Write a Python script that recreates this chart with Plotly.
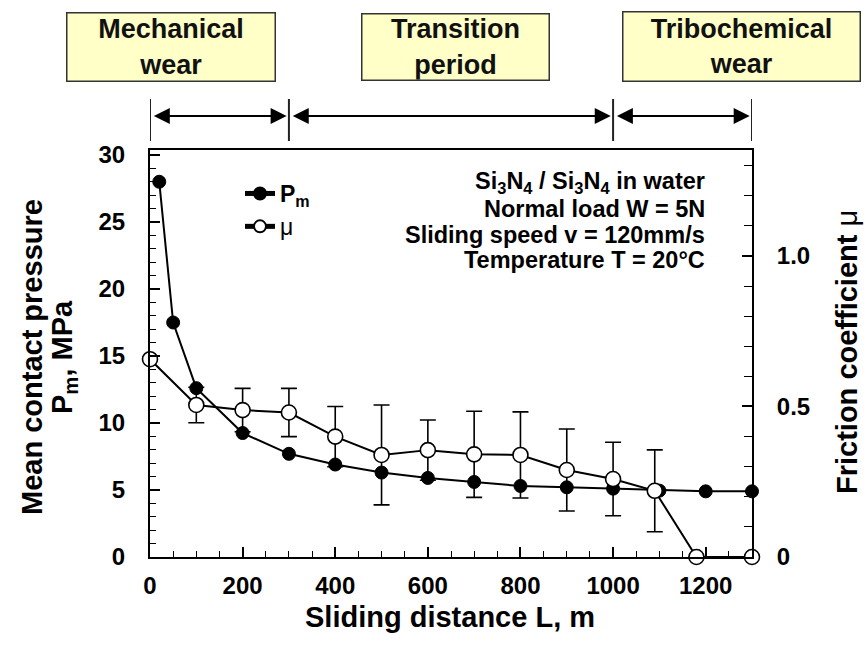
import plotly.graph_objects as go

# ---------------- data ----------------
distance_pm = [20, 50, 100, 200, 300, 400, 500, 600, 700, 800, 900, 1000, 1100, 1200, 1300]
pressure_pm = [28.0, 17.5, 12.6, 9.25, 7.7, 6.9, 6.3, 5.9, 5.6, 5.3, 5.2, 5.1, 4.95, 4.9, 4.9]

distance_mu = [0, 100, 200, 300, 400, 500, 600, 700, 800, 900, 1000, 1090, 1180, 1300]
friction_mu = [0.657, 0.505, 0.488, 0.48, 0.40, 0.339, 0.355, 0.341, 0.339, 0.289, 0.259, 0.22, 0.0, 0.0]
friction_err = [None, 0.059, 0.072, 0.08, 0.10, 0.166, 0.10, 0.143, 0.143, 0.136, 0.122, 0.136, None, None]

phase_bounds = [0, 300, 1000, 1300]
phase_labels = ["Mechanical<br>wear", "Transition<br>period", "Tribochemical<br>wear"]

x_ticks = [0, 200, 400, 600, 800, 1000, 1200]
y_ticks = [0, 5, 10, 15, 20, 25, 30]
mu_ticks = [0, 0.5, 1.0]
mu_ticktext = ["0", "0.5", "1.0"]

conditions = [
    "Si<sub>3</sub>N<sub>4</sub> / Si<sub>3</sub>N<sub>4</sub> in water",
    "Normal load W = 5N",
    "Sliding speed v = 120mm/s",
    "Temperature T = 20°C",
]

FONT = "Liberation Sans, Arial, Helvetica, sans-serif"
W, H = 866, 659
L, R, T, B = 150, 114, 150, 102
PW = W - L - R
PH = H - T - B


def px_to_paper_y(py):
    return (H - B - py) / PH


def px_to_paper_x(px):
    return (px - L) / PW


fig = go.Figure()

fig.add_trace(go.Scatter(
    x=distance_pm, y=pressure_pm, mode="lines+markers",
    name="<b>P<sub>m</sub></b>",
    line=dict(color="black", width=2),
    marker=dict(symbol="circle", size=13, color="black", line=dict(color="black", width=1)),
    yaxis="y", cliponaxis=False,
))

fig.add_trace(go.Scatter(
    x=distance_mu, y=friction_mu, mode="lines+markers",
    name="μ",
    line=dict(color="black", width=2),
    marker=dict(symbol="circle", size=15, color="white", line=dict(color="black", width=1.6)),
    error_y=dict(type="data", array=friction_err, visible=True, color="black",
                 thickness=1.6, width=8),
    yaxis="y2", cliponaxis=False,
))

annotations = []

# phase boxes
box_specs = [(170.5, 210, 70), (455.5, 189, 68), (741.5, 239, 71)]
for label, (cx, bw, bh) in zip(phase_labels, box_specs):
    annotations.append(dict(
        text="<b>" + label + "</b>", x=px_to_paper_x(cx), y=px_to_paper_y(47),
        xref="paper", yref="paper", xanchor="center", yanchor="middle",
        showarrow=False, font=dict(family=FONT, size=27, color="#111"),
        bgcolor="#FFFFC8", bordercolor="#333333", borderwidth=1.5, borderpad=0,
        width=bw - 3, height=bh - 3, align="center",
    ))

# double arrows between phase boundaries
arrow_y = px_to_paper_y(116)
for a, b in zip(phase_bounds[:-1], phase_bounds[1:]):
    annotations.append(dict(
        text="", x=b - 5, y=arrow_y, xref="x", yref="paper",
        ax=a + 5, ay=0, axref="x", ayref="pixel",
        showarrow=True, arrowhead=2, startarrowhead=2, arrowside="end+start",
        arrowsize=1.6, startarrowsize=1.6, arrowwidth=2, arrowcolor="black",
        standoff=0, startstandoff=0,
    ))

shapes = []
for xb in phase_bounds:
    shapes.append(dict(type="line", xref="x", yref="paper", x0=xb, x1=xb,
                       y0=px_to_paper_y(141), y1=px_to_paper_y(99),
                       line=dict(color="#222", width=2)))

# test condition text block
cond_y = [183, 209, 235, 260]
for line, py in zip(conditions, cond_y):
    annotations.append(dict(
        text="<b>" + line + "</b>", x=px_to_paper_x(707), y=px_to_paper_y(py),
        xref="paper", yref="paper", xanchor="right", yanchor="middle",
        showarrow=False, font=dict(family=FONT, size=23.5, color="black"),
    ))

# axis titles
annotations.append(dict(
    text="<b>Mean contact pressure</b>", x=0, y=px_to_paper_y(357), xref="paper", yref="paper",
    xshift=32 - L, xanchor="center", yanchor="middle", textangle=-90, showarrow=False,
    font=dict(family=FONT, size=29, color="black"),
))
annotations.append(dict(
    text="<b>P<sub>m</sub>, MPa</b>", x=0, y=px_to_paper_y(357), xref="paper", yref="paper",
    xshift=64 - L, xanchor="center", yanchor="middle", textangle=-90, showarrow=False,
    font=dict(family=FONT, size=29, color="black"),
))
annotations.append(dict(
    text="<b>Friction coefficient</b> μ", x=1, y=px_to_paper_y(352), xref="paper", yref="paper",
    xshift=847 - (W - R), xanchor="center", yanchor="middle", textangle=-90, showarrow=False,
    font=dict(family=FONT, size=29, color="black"),
))
annotations.append(dict(
    text="<b>Sliding distance L, m</b>", x=px_to_paper_x(450), y=px_to_paper_y(617),
    xref="paper", yref="paper", xanchor="center", yanchor="middle", showarrow=False,
    font=dict(family=FONT, size=29, color="black"),
))

tickfont = dict(family=FONT, size=24, color="black", weight="bold")

fig.update_layout(
    width=W, height=H,
    margin=dict(l=L, r=R, t=T, b=B, pad=0),
    paper_bgcolor="white", plot_bgcolor="white",
    showlegend=True,
    legend=dict(x=px_to_paper_x(240), y=px_to_paper_y(172), xanchor="left", yanchor="top",
                bgcolor="rgba(0,0,0,0)", font=dict(family=FONT, size=23, color="black"),
                tracegroupgap=4, itemsizing="constant"),
    xaxis=dict(range=[0, 1300], tickvals=x_ticks, showgrid=False, zeroline=False,
               showline=True, linecolor="black", linewidth=2, mirror=True,
               ticks="inside", ticklen=10, tickwidth=1.6, tickcolor="black",
               minor=dict(dtick=50, ticks="inside", ticklen=6, tickwidth=1.4, tickcolor="black"),
               tickfont=tickfont, ticklabelstandoff=6),
    yaxis=dict(range=[0, 30.37], tickvals=y_ticks, showgrid=False, zeroline=False,
               showline=True, linecolor="black", linewidth=2,
               ticks="inside", ticklen=10, tickwidth=1.6, tickcolor="black",
               minor=dict(dtick=1, ticks="inside", ticklen=6, tickwidth=1.4, tickcolor="black"),
               tickfont=tickfont, ticklabelstandoff=18),
    yaxis2=dict(range=[0, 1.352], tickvals=mu_ticks, ticktext=mu_ticktext, side="right",
                overlaying="y", showgrid=False, zeroline=False,
                showline=True, linecolor="black", linewidth=2,
                ticks="inside", ticklen=10, tickwidth=1.6, tickcolor="black",
                minor=dict(dtick=0.1, ticks="inside", ticklen=8, tickwidth=1.4, tickcolor="black"),
                tickfont=tickfont, ticklabelstandoff=18),
    annotations=annotations,
    shapes=shapes,
)

fig.write_html("out.html")
